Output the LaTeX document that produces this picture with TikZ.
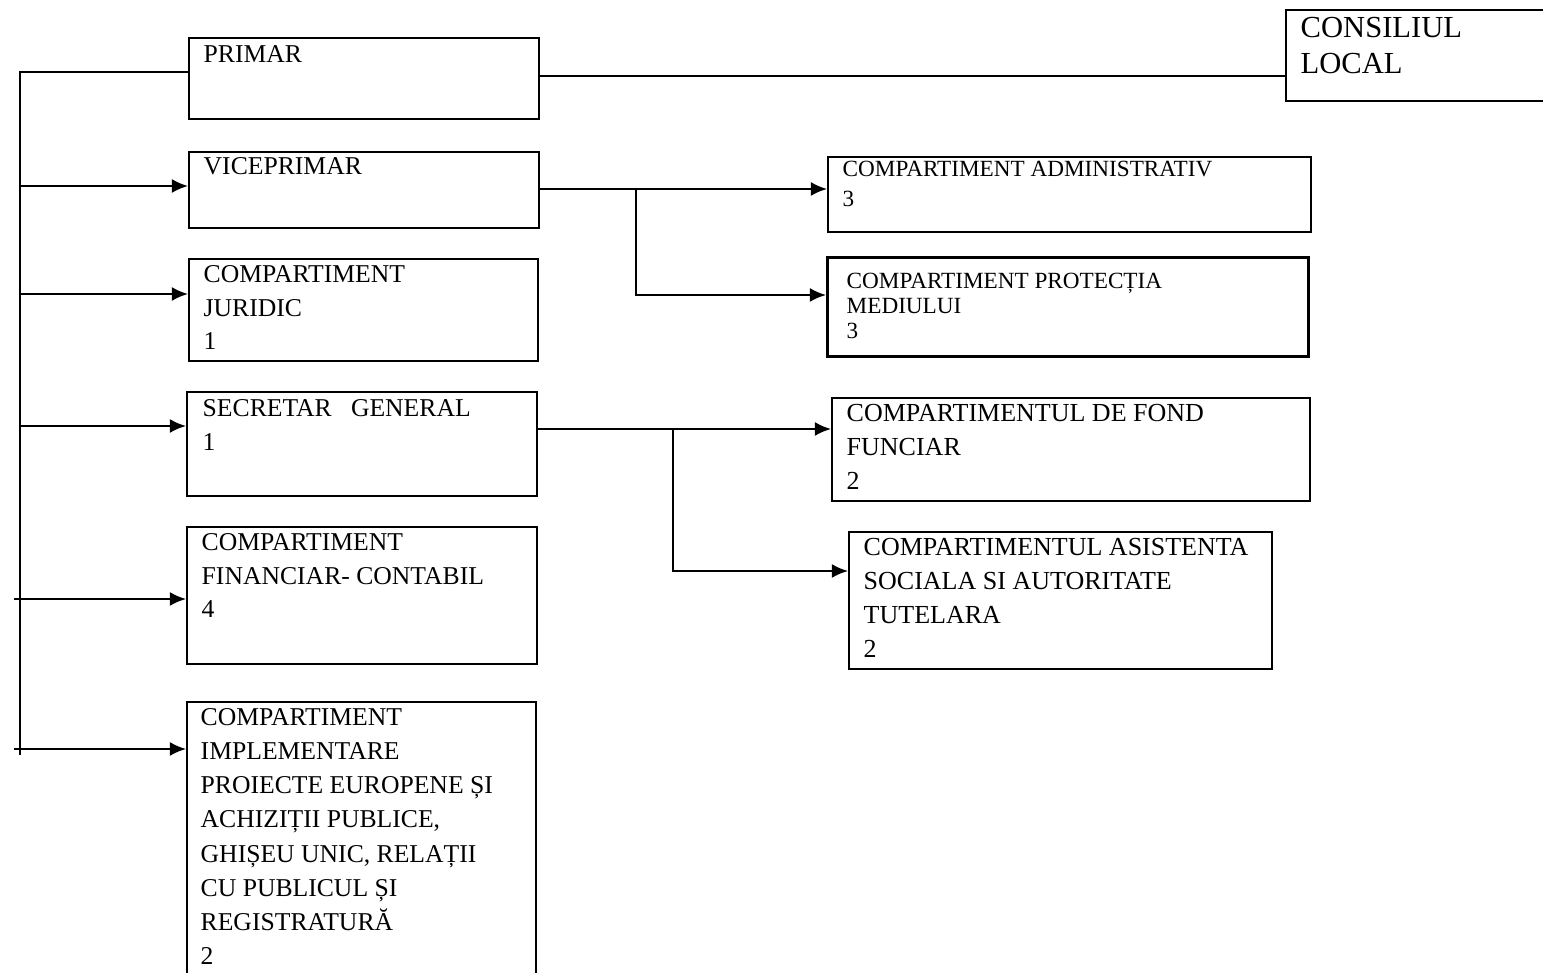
\documentclass[tikz,border=0pt]{standalone}
\usepackage{fontspec}
\setmainfont{Liberation Serif}
\usepackage{tikz}
\usetikzlibrary{arrows.meta}

\begin{document}
\begin{tikzpicture}[
            x=0.1mm, y=-0.1mm,
            box/.style={draw, semithick, anchor=north west, inner sep=0pt},
            txt/.style={anchor=north west, align=left, inner sep=0pt,
            font=\fontsize{7.3}{9.5}\selectfont},
            txtsmall/.style={txt, font=\fontsize{6.6}{8.8}\selectfont},
            txtbig/.style={txt, font=\fontsize{8.7}{10}\selectfont},
            conn/.style={semithick},
            arrow/.style={semithick, -{Latex[length=4.6pt,width=4pt]}}
            ]

            \path[use as bounding box, fill=white] (0,0) rectangle (1543,973);

            % left column
            \node[box, minimum width=3.5cm, minimum height=8.1mm] (primar) at (188,37) {};
            \node[box, minimum width=3.5cm, minimum height=7.6mm] (vice) at (188,151) {};
            \node[box, minimum width=3.49cm, minimum height=10.2mm] (jur) at (188,258) {};
            \node[box, minimum width=3.5cm, minimum height=10.4mm] (sec) at (186,391) {};
            \node[box, minimum width=3.5cm, minimum height=13.7mm] (fin) at (186,526) {};
            \node[box, minimum width=3.49cm, minimum height=31mm] (impl) at (186,701) {};

            % right column
            \node[box, minimum width=3.2cm, minimum height=9.1mm] (cons) at (1285,9) {};
            \node[box, minimum width=4.83cm, minimum height=7.5mm] (admin) at (827,156) {};
            \node[box, thick, minimum width=4.81cm, minimum height=9.9mm] (prot) at (826,256) {};
            \node[box, minimum width=4.78cm, minimum height=10.3mm] (fond) at (831,397) {};
            \node[box, minimum width=4.23cm, minimum height=13.7mm] (asis) at (848,531) {};

            % texts
            \node[txt] (primarT) at (203,45) {PRIMAR};
            \node[txt] (viceT) at (203,157) {VICEPRIMAR};
            \node[txt] (jurT) at (203,265) {COMPARTIMENT\\JURIDIC\\1};
            \node[txt] (secT) at (202,399) {SECRETAR\ \ \ GENERAL\\1};
            \node[txt] (finT) at (201,533) {COMPARTIMENT\\FINANCIAR- CONTABIL\\4};
            \node[txt, font=\fontsize{7.3}{9.7}\selectfont] (implT) at (200,708)
            {COMPARTIMENT\\IMPLEMENTARE\\PROIECTE EUROPENE ȘI\\ACHIZIȚII PUBLICE,\\GHIȘEU UNIC, RELAȚII\\CU PUBLICUL ȘI\\REGISTRATURĂ\\2};
            \node[txtbig] (consT) at (1300,17) {CONSILIUL\\LOCAL};
            \node[txtsmall] (adminT) at (842,160) {COMPARTIMENT ADMINISTRATIV\\3};
            \node[txtsmall, font=\fontsize{6.6}{7.2}\selectfont] (protT) at (846,272)
            {COMPARTIMENT PROTECȚIA\\MEDIULUI\\3};
            \node[txt, font=\fontsize{7.4}{9.6}\selectfont] (fondT) at (846,404)
            {COMPARTIMENTUL DE FOND\\FUNCIAR\\2};
            \node[txt, font=\fontsize{7.4}{9.6}\selectfont] (asisT) at (863,538)
            {COMPARTIMENTUL ASISTENTA\\SOCIALA SI AUTORITATE\\TUTELARA\\2};

            % bus
            \coordinate (bustop) at (20,72);
            \coordinate (b1) at (20,186);
            \coordinate (b2) at (20,294);
            \coordinate (b3) at (20,426);
            \coordinate (b4) at (14,599);
            \coordinate (b5) at (14,749);
            \coordinate (busbot) at (20,755);

            \draw[conn] (primar.west |- bustop) -- (bustop) -- (busbot);
            \draw[arrow] (b1) -- (vice.west |- b1);
            \draw[arrow] (b2) -- (jur.west |- b2);
            \draw[arrow] (b3) -- (sec.west |- b3);
            \draw[arrow] (b4) -- (fin.west |- b4);
            \draw[arrow] (b5) -- (impl.west |- b5);

            % primar - consiliul
            \coordinate (pc) at (600,76);
            \draw[conn] (primar.east |- pc) -- (cons.west |- pc);

            % viceprimar
            \coordinate (vj) at (636,189);
            \coordinate (pj) at (636,295);
            \draw[arrow] (vice.east |- vj) -- (admin.west |- vj);
            \draw[arrow] (vj) -- (pj) -- (prot.west |- pj);

            % secretar general
            \coordinate (sj) at (673,429);
            \coordinate (aj) at (673,571);
            \draw[arrow] (sec.east |- sj) -- (fond.west |- sj);
            \draw[arrow] (sj) -- (aj) -- (asis.west |- aj);

        \end{tikzpicture}
\end{document}
